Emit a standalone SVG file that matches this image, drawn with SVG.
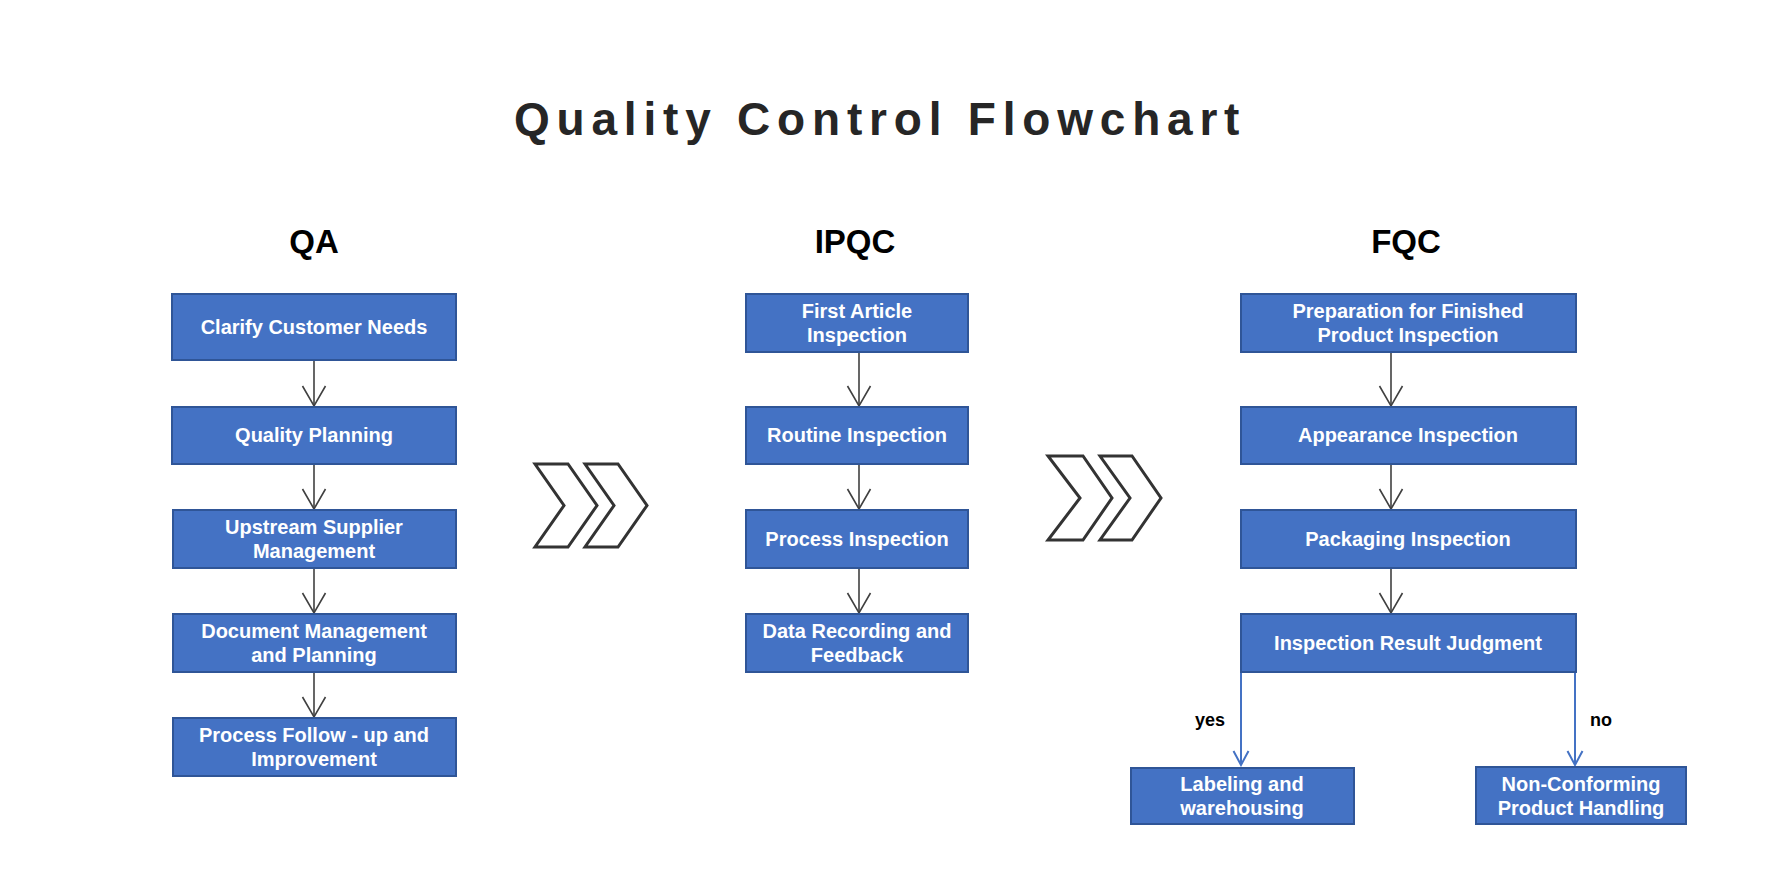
<svg xmlns="http://www.w3.org/2000/svg" width="1765" height="889" viewBox="0 0 1765 889">
<style>
.box{fill:#4472C4;stroke:#2F5597;stroke-width:2}
.bt{font-family:"Liberation Sans",Arial,sans-serif;font-weight:bold;font-size:20px;fill:#fff;text-anchor:middle}
.hd{font-family:"Liberation Sans",Arial,sans-serif;font-weight:bold;font-size:33px;fill:#000;text-anchor:middle}
.lb{font-family:"Liberation Sans",Arial,sans-serif;font-weight:bold;font-size:18px;fill:#000}
.ln{stroke:#404040;stroke-width:1.6;fill:none}
.bl{stroke:#4472C4;stroke-width:2;fill:none}
.chev{fill:none;stroke:#333;stroke-width:3;stroke-linejoin:miter}
</style>
<defs>
<marker id="ah" markerUnits="userSpaceOnUse" viewBox="-22 -13 24 26" refX="0" refY="0" markerWidth="24" markerHeight="26" orient="auto">
<path d="M-20,-11.5 L0,0 L-20,11.5" fill="none" stroke="#404040" stroke-width="1.6"/>
</marker>
<marker id="ahb" markerUnits="userSpaceOnUse" viewBox="-9 -16 18 18" refX="0" refY="0" markerWidth="18" markerHeight="18" orient="0">
<path d="M-7.5,-14 L0,0 L7.5,-14" fill="none" stroke="#4472C4" stroke-width="2"/>
</marker>
</defs>
<rect width="1765" height="889" fill="#fff"/>
<text x="514" y="135" font-family="'Liberation Sans',Arial,sans-serif" font-weight="bold" font-size="46" letter-spacing="6.8" fill="#262626">Quality Control Flowchart</text>
<text class="hd" x="314" y="253">QA</text>
<text class="hd" x="855" y="253">IPQC</text>
<text class="hd" x="1406" y="253">FQC</text>
<g id="chevrons1"><polygon class="chev" points="535,464 568,464 597,505.5 568,547 535,547 564,505.5"/><polygon class="chev" points="585,464 618,464 647,505.5 618,547 585,547 614,505.5"/></g>
<g id="chevrons2"><polygon class="chev" points="1048,456 1083,456 1112,498 1083,540 1048,540 1080,498"/><polygon class="chev" points="1100,456 1132,456 1161,498 1132,540 1100,540 1130,498"/></g>
<g id="connectors">
<line class="ln" x1="314" y1="360" x2="314" y2="406" marker-end="url(#ah)"/>
<line class="ln" x1="314" y1="464" x2="314" y2="509" marker-end="url(#ah)"/>
<line class="ln" x1="314" y1="568" x2="314" y2="613" marker-end="url(#ah)"/>
<line class="ln" x1="314" y1="672" x2="314" y2="717" marker-end="url(#ah)"/>
<line class="ln" x1="859" y1="352" x2="859" y2="406" marker-end="url(#ah)"/>
<line class="ln" x1="859" y1="464" x2="859" y2="509" marker-end="url(#ah)"/>
<line class="ln" x1="859" y1="568" x2="859" y2="613" marker-end="url(#ah)"/>
<line class="ln" x1="1391" y1="352" x2="1391" y2="406" marker-end="url(#ah)"/>
<line class="ln" x1="1391" y1="464" x2="1391" y2="509" marker-end="url(#ah)"/>
<line class="ln" x1="1391" y1="568" x2="1391" y2="613" marker-end="url(#ah)"/>
<line class="bl" x1="1241" y1="672" x2="1241" y2="765" marker-end="url(#ahb)"/>
<line class="bl" x1="1575" y1="672" x2="1575" y2="765" marker-end="url(#ahb)"/>
<text class="lb" x="1195" y="726">yes</text>
<text class="lb" x="1590" y="726">no</text>
</g>
<g id="qa1"><rect class="box" x="172" y="294" width="284" height="66"/><text class="bt" x="314" y="334">Clarify Customer Needs</text></g>
<g id="qa2"><rect class="box" x="172" y="407" width="284" height="57"/><text class="bt" x="314" y="442">Quality Planning</text></g>
<g id="qa3"><rect class="box" x="173" y="510" width="283" height="58"/><text class="bt" x="314" y="534">Upstream Supplier</text><text class="bt" x="314" y="558">Management</text></g>
<g id="qa4"><rect class="box" x="173" y="614" width="283" height="58"/><text class="bt" x="314" y="638">Document Management</text><text class="bt" x="314" y="662">and Planning</text></g>
<g id="qa5"><rect class="box" x="173" y="718" width="283" height="58"/><text class="bt" x="314" y="742">Process Follow - up and</text><text class="bt" x="314" y="766">Improvement</text></g>
<g id="ipqc1"><rect class="box" x="746" y="294" width="222" height="58"/><text class="bt" x="857" y="318">First Article</text><text class="bt" x="857" y="342">Inspection</text></g>
<g id="ipqc2"><rect class="box" x="746" y="407" width="222" height="57"/><text class="bt" x="857" y="442">Routine Inspection</text></g>
<g id="ipqc3"><rect class="box" x="746" y="510" width="222" height="58"/><text class="bt" x="857" y="546">Process Inspection</text></g>
<g id="ipqc4"><rect class="box" x="746" y="614" width="222" height="58"/><text class="bt" x="857" y="638">Data Recording and</text><text class="bt" x="857" y="662">Feedback</text></g>
<g id="fqc1"><rect class="box" x="1241" y="294" width="335" height="58"/><text class="bt" x="1408" y="318">Preparation for Finished</text><text class="bt" x="1408" y="342">Product Inspection</text></g>
<g id="fqc2"><rect class="box" x="1241" y="407" width="335" height="57"/><text class="bt" x="1408" y="442">Appearance Inspection</text></g>
<g id="fqc3"><rect class="box" x="1241" y="510" width="335" height="58"/><text class="bt" x="1408" y="546">Packaging Inspection</text></g>
<g id="fqc4"><rect class="box" x="1241" y="614" width="335" height="58"/><text class="bt" x="1408" y="650">Inspection Result Judgment</text></g>
<g id="fqc5"><rect class="box" x="1131" y="768" width="223" height="56"/><text class="bt" x="1242" y="791">Labeling and</text><text class="bt" x="1242" y="815">warehousing</text></g>
<g id="fqc6"><rect class="box" x="1476" y="767" width="210" height="57"/><text class="bt" x="1581" y="791">Non-Conforming</text><text class="bt" x="1581" y="815">Product Handling</text></g>
</svg>
